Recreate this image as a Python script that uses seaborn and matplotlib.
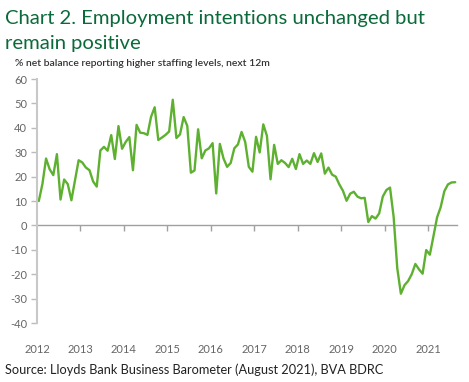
import numpy as np
import pandas as pd
import matplotlib
matplotlib.use("Agg")
import matplotlib.pyplot as plt
import seaborn as sns

# Monthly net balance, Jan 2012 - Aug 2021
years = ["2012", "2013", "2014", "2015", "2016", "2017", "2018", "2019", "2020", "2021"]
balance = [
    10, 17, 27.4, 23, 20.6, 29.2, 10.6, 18.8, 16.9, 10.3, 18.5, 26.7,      # 2012
    25.8, 23.7, 22.6, 18, 15.9, 30.7, 32.2, 30.6, 37, 27.2, 40.7, 31.4,    # 2013
    34.2, 36.2, 22.6, 41.2, 38, 37.8, 37.1, 44.5, 48.4, 35, 36, 37.1,      # 2014
    38.5, 51.5, 35.8, 37.3, 44.4, 40.8, 21.6, 22.5, 39.4, 27.5, 30.7, 31.6,  # 2015
    33.7, 13.1, 33.4, 27.5, 24, 25.6, 31.6, 33.2, 38.3, 34.2, 24, 22,      # 2016
    36.3, 29.9, 41.4, 36.7, 18.9, 33, 25.2, 26.7, 25.6, 23.9, 27.3, 23.1,  # 2017
    29.2, 25.2, 26.6, 25.2, 29.6, 26, 29.5, 21.2, 23.7, 20.8, 20, 16.8,    # 2018
    14.2, 10.1, 13, 13.8, 11.8, 11.1, 11.3, 1.4, 3.8, 2.8, 4.9, 11.8,      # 2019
    14.5, 15.5, 3.5, -17.5, -28, -24.5, -22.8, -20, -15.8, -18, -19.8, -10.1,  # 2020
    -12, -4.4, 3.3, 7.5, 14, 16.8, 17.6, 17.7,                             # 2021
]

df = pd.DataFrame({"pos": np.arange(len(balance)) + 0.5, "balance": balance})

sns.set_theme(style="white")
plt.rcParams['font.family'] = ['Lato', 'DejaVu Sans']
plt.rcParams['axes.unicode_minus'] = False

W, H = 469, 382
fig = plt.figure(figsize=(W / 100, H / 100), dpi=100)
ax = fig.add_axes([37 / W, 1 - 323 / H, (457 - 37) / W, (323 - 79) / H])

sns.lineplot(data=df, x="pos", y="balance", ax=ax, color="#5EB130", linewidth=1.7)

ax.set_xlim(0, len(balance))
ax.set_ylim(-40, 60)
ax.set_yticks(range(-40, 61, 10))
ax.set_xticks(range(0, len(balance), 12))
ax.set_xticklabels(years)
ax.set_xlabel("")
ax.set_ylabel("")
ax.tick_params(axis="x", length=0, pad=15, labelsize=8, labelcolor="#666666")
ax.tick_params(axis="y", left=True, length=4, width=1, direction="out", color="#BBBBBB",
               labelsize=8, labelcolor="#666666", pad=3)
for s in ["top", "right", "bottom"]:
    ax.spines[s].set_visible(False)
ax.spines["left"].set_color("#C8C8C8")
ax.spines["left"].set_linewidth(1.5)

# zero line with year ticks
zero = ax.secondary_xaxis(40 / 100)
zero.set_xticks(range(12, len(balance), 12))
zero.tick_params(length=4, width=1, direction="out", color="#A0A0A0", labelbottom=False)
zero.spines["bottom"].set_color("#A0A0A0")
zero.spines["bottom"].set_linewidth(1)

fig.text(5 / W, 1 - 24 / H, "Chart 2. Employment intentions unchanged but",
         fontsize=14.6, color="#0B6A3A", va="baseline")
fig.text(5 / W, 1 - 49 / H, "remain positive",
         fontsize=14.6, color="#0B6A3A", va="baseline")
fig.text(15 / W, 1 - 66 / H, "% net balance reporting higher staffing levels, next 12m",
         fontsize=7.5, fontweight="semibold", color="#333333", va="baseline")
fig.text(5 / W, 1 - 374 / H, "Source: Lloyds Bank Business Barometer (August 2021), BVA BDRC",
         fontsize=9.2, color="#222222", va="baseline")

fig.savefig("out.png", dpi=100)
